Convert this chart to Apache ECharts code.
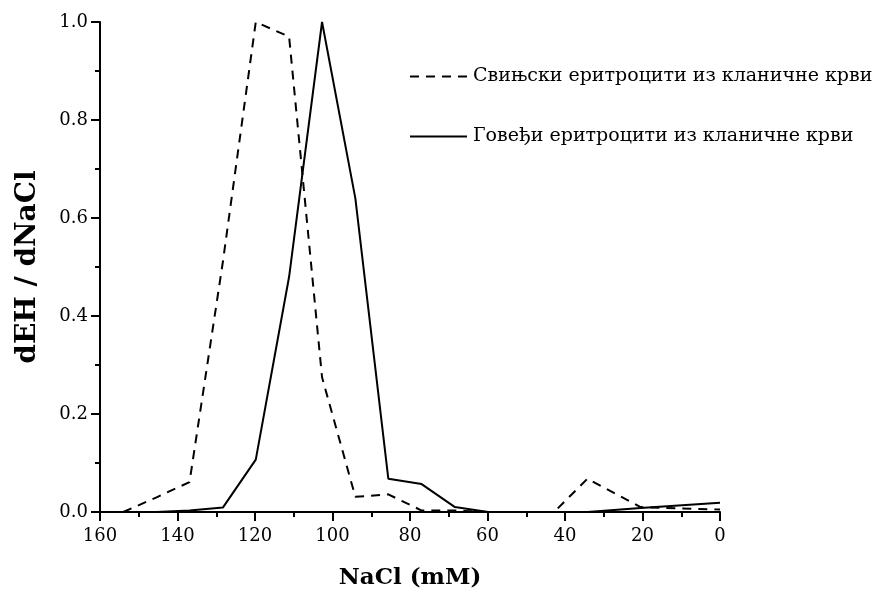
<!DOCTYPE html>
<html>
<head>
<meta charset="utf-8">
<script src="https://cdn.jsdelivr.net/npm/echarts@6/dist/echarts.min.js"></script>
<style>
html,body{margin:0;padding:0;background:#fff;}
#chart{width:881px;height:601px;}
</style>
</head>
<body>
<div id="chart"></div>
<script>
var nacl = [154, 145.4, 136.9, 128.3, 119.8, 111.2, 102.7, 94.1, 85.6, 77, 68.4, 59.9, 51.3, 42.8, 34.2, 20.5, 0];
var pig = [0, 0.03, 0.061, 0.51, 1.0, 0.97, 0.275, 0.031, 0.036, 0.003, 0.003, 0, 0, 0, 0.068, 0.01, 0.005];
var bovine = [0, 0, 0.003, 0.009, 0.107, 0.48, 1.0, 0.64, 0.068, 0.057, 0.01, 0, 0, 0, 0, 0.008, 0.019];
var seriesNames = ['Свињски еритроцити из кланичне крви', 'Говеђи еритроцити из кланичне крви'];
var xTitle = 'NaCl (mM)';
var yTitle = 'dEH / dNaCl';

function pairs(xs, ys) { return xs.map(function (x, i) { return [x, ys[i]]; }); }

var FONT = 'DejaVu Serif';
var chart = echarts.init(document.getElementById('chart'));
chart.setOption({
  animation: false,
  backgroundColor: '#fff',
  grid: { left: 100, right: 161, top: 22, bottom: 89 },
  legend: {
    orient: 'vertical', left: 404, top: 62, itemGap: 41,
    itemWidth: 57, itemHeight: 22,
    itemStyle: { opacity: 0 },
    textStyle: { fontFamily: FONT, fontSize: 19, color: '#000', padding: [0, 0, 0, 1] },
    data: seriesNames
  },
  xAxis: {
    type: 'value', min: 0, max: 160, interval: 20, inverse: true,
    name: xTitle, nameLocation: 'middle', nameGap: 55,
    nameTextStyle: { fontFamily: FONT, fontWeight: 'bold', fontSize: 23, color: '#000' },
    axisLine: { show: true, onZero: false, lineStyle: { color: '#000', width: 2 } },
    axisTick: { show: true, inside: false, length: 9, lineStyle: { color: '#000', width: 2 } },
    minorTick: { show: true, splitNumber: 2, length: 5, lineStyle: { color: '#000', width: 2 } },
    axisLabel: { fontFamily: FONT, fontSize: 18, color: '#000', margin: 15 },
    splitLine: { show: false }
  },
  yAxis: {
    type: 'value', min: 0, max: 1, interval: 0.2,
    name: yTitle, nameLocation: 'middle', nameGap: 58, nameRotate: 90,
    nameTextStyle: { fontFamily: FONT, fontWeight: 'bold', fontSize: 28, color: '#000' },
    axisLine: { show: true, onZero: false, lineStyle: { color: '#000', width: 2 } },
    axisTick: { show: true, inside: false, length: 9, lineStyle: { color: '#000', width: 2 } },
    minorTick: { show: true, splitNumber: 2, length: 5, lineStyle: { color: '#000', width: 2 } },
    axisLabel: { fontFamily: FONT, fontSize: 18, color: '#000', margin: 12,
      formatter: function (v) { return v.toFixed(1); } },
    splitLine: { show: false }
  },
  series: [
    {
      name: seriesNames[0], type: 'line', data: pairs(nacl, pig),
      symbol: 'none', showSymbol: false, color: '#000',
      lineStyle: { color: '#000', width: 2, type: [9, 7] }
    },
    {
      name: seriesNames[1], type: 'line', data: pairs(nacl, bovine),
      symbol: 'none', showSymbol: false, color: '#000',
      lineStyle: { color: '#000', width: 2, type: 'solid' }
    }
  ]
});
</script>
</body>
</html>
